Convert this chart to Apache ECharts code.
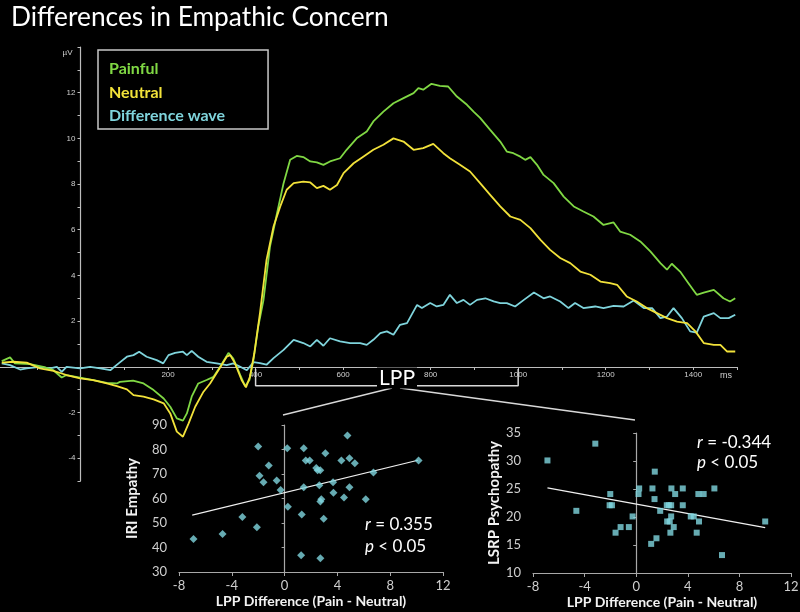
<!DOCTYPE html>
<html>
<head>
<meta charset="utf-8">
<script src="https://cdn.jsdelivr.net/npm/echarts@6/dist/echarts.min.js"></script>
<style>
html,body{margin:0;padding:0;background:#000;}
#chart{width:800px;height:612px;}
</style>
</head>
<body>
<div id="chart"></div>
<script>
// ---------- DATA ----------
const painful = [[-180,0.25],[-161,0.41],[-150,0.15],[-115,0.12],[-85,0],[-62,-0.15],[-43,-0.47],[-32,-0.36],[-1,-0.47],[29,-0.58],[60,-0.7],[83,-0.73],[90,-0.66],[120,-0.61],[144,-0.73],[167,-1.02],[190,-1.39],[205,-1.75],[220,-2.26],[234,-2.36],[243,-2.04],[254,-1.31],[269,-0.73],[288,-0.58],[304,-0.44],[319,0],[338,0.61],[349,0.36],[365,-0.36],[376,-0.85],[386,-0.58],[395,0.29],[406,1.75],[418,2.92],[433,5.27],[449,6.72],[464,8.04],[479,9.06],[494,9.23],[509,9.18],[525,8.99],[540,8.95],[555,8.84],[570,8.99],[593,9.13],[608,9.5],[631,10.0],[654,10.3],[669,10.74],[692,11.17],[715,11.54],[738,11.76],[761,11.98],[772,12.2],[783,12.13],[802,12.39],[821,12.3],[840,12.27],[860,11.83],[883,11.47],[898,11.17],[913,10.9],[936,10.37],[959,9.86],[974,9.42],[989,9.35],[1005,9.2],[1016,9.06],[1028,9.18],[1043,8.84],[1058,8.4],[1081,8.04],[1104,7.45],[1127,7.02],[1149,6.8],[1172,6.58],[1195,6.21],[1218,6.32],[1233,5.92],[1256,5.78],[1279,5.49],[1302,5.05],[1325,4.54],[1340,4.25],[1351,4.51],[1370,4.17],[1389,3.66],[1408,3.15],[1424,3.25],[1447,3.37],[1469,3.0],[1484,2.86],[1496,3.0]];

const neutral = [[-180,0.18],[-153,0.22],[-123,0.18],[-93,-0.07],[-62,-0.18],[-32,-0.36],[-1,-0.51],[29,-0.58],[60,-0.73],[83,-0.85],[106,-0.99],[121,-1.24],[144,-1.31],[167,-1.43],[190,-1.6],[205,-2.04],[220,-2.84],[234,-3.06],[247,-2.48],[262,-1.75],[281,-1.09],[296,-0.73],[315,-0.15],[334,0.44],[342,0.51],[353,0.15],[368,-0.58],[378,-0.9],[387,-0.44],[397,0.58],[410,2.35],[425,4.68],[441,6.14],[456,7.0],[471,7.75],[487,8.04],[509,8.11],[525,8.07],[540,7.82],[555,7.92],[570,7.75],[586,7.96],[601,8.48],[624,8.91],[646,9.2],[669,9.5],[692,9.72],[715,10.0],[738,9.86],[761,9.5],[783,9.57],[806,9.76],[829,9.35],[844,9.13],[867,8.84],[890,8.55],[913,8.04],[936,7.53],[959,7.02],[982,6.58],[1005,6.43],[1028,6.07],[1051,5.56],[1073,5.12],[1096,4.76],[1119,4.54],[1142,4.17],[1165,4.03],[1188,3.73],[1210,3.66],[1226,3.59],[1248,3.08],[1271,2.86],[1294,2.57],[1317,2.35],[1340,2.13],[1363,1.98],[1386,1.91],[1405,1.55],[1424,1.04],[1447,0.96],[1462,0.96],[1477,0.67],[1496,0.67]];

const differenceWave = [[-180,0.15],[-161,0.07],[-138,-0.12],[-123,-0.07],[-93,0],[-70,-0.07],[-54,0],[-43,-0.22],[-32,0],[-1,-0.07],[22,0],[45,-0.07],[68,-0.15],[87,0.15],[106,0.44],[121,0.51],[134,0.66],[151,0.44],[174,0.29],[189,0.15],[201,0.51],[216,0.61],[234,0.66],[243,0.51],[254,0.7],[269,0.44],[288,0.22],[311,0.15],[334,0.07],[349,0.15],[365,0],[380,-0.15],[395,0.2],[410,0.16],[425,0.09],[441,0.38],[464,0.74],[487,1.18],[509,1.04],[525,0.89],[540,1.18],[555,0.92],[570,1.25],[593,1.11],[616,1.04],[639,1.04],[654,0.96],[669,1.18],[685,1.47],[700,1.55],[715,1.4],[730,1.84],[746,1.91],[769,2.71],[780,2.57],[799,2.79],[814,2.64],[829,2.71],[844,3.15],[860,2.79],[875,2.93],[890,2.71],[906,2.93],[925,3.0],[944,2.86],[959,2.79],[974,2.79],[993,2.64],[1013,2.93],[1036,3.25],[1058,3.0],[1073,3.08],[1096,2.86],[1115,2.57],[1130,2.79],[1149,2.57],[1176,2.64],[1195,2.57],[1218,2.67],[1241,2.64],[1264,2.9],[1287,2.57],[1306,2.57],[1325,2.13],[1340,2.2],[1355,2.57],[1374,2.13],[1393,1.55],[1408,1.5],[1424,2.2],[1447,2.35],[1462,2.13],[1481,2.13],[1496,2.28]];

// LPP window (ms)
const lppWindow = [400, 1000];

// Scatter 1: LPP difference vs IRI Empathy
const iriPoints = [[-6.9,43.5],[-4.7,45.5],[-3.2,52.5],[-2.1,48.3],[-2.0,81.2],[-1.9,69.3],[-1.6,66.6],[-1.2,73.5],[-0.6,67.3],[-0.3,63.5],[0.2,80.5],[0.25,56.6],[1.25,36.8],[1.3,53.5],[1.45,80.5],[1.45,64.6],[1.6,75.5],[1.9,75.5],[2.4,72.4],[2.5,71.5],[2.7,71.5],[2.63,65.4],[2.71,35.6],[2.71,58.8],[2.78,59.7],[2.96,51.7],[3.09,78.5],[3.67,66.6],[3.7,62.3],[4.3,75.5],[4.5,60.4],[4.76,85.7],[4.91,76.4],[4.91,64.6],[5.32,74.4],[6.15,59.7],[6.73,70.6],[10.15,75.5]];
const iriTrend = [[-7.0,53.2],[10.1,75.6]];

// Scatter 2: LPP difference vs LSRP Psychopathy
const lsrpPoints = [[-6.88,30.1],[-3.17,33.1],[-4.64,21.1],[-2.01,24.1],[-2.06,22.1],[-1.88,22.1],[-1.6,17.2],[-1.21,18.2],[-0.57,18.2],[-0.28,20.1],[0.23,25.1],[0.18,24.1],[1.16,15.2],[1.26,25.1],[1.44,28.1],[1.42,23.2],[1.57,16.2],[1.86,21.1],[2.37,22.1],[2.53,22.1],[2.71,22.1],[2.4,19.2],[2.6,19.2],[2.71,20.1],[2.73,25.1],[2.65,17.2],[2.91,18.2],[3.02,24.1],[3.61,25.1],[3.61,22.1],[4.23,20.1],[4.46,20.1],[4.69,17.2],[4.82,24.1],[4.87,19.2],[5.23,24.1],[6.06,25.1],[6.65,13.2],[10.0,19.2]];
const lsrpTrend = [[-6.88,25.2],[10.0,18.1]];

// ---------- STYLE ----------
const GREEN = '#80d844', YELLOW = '#f2e23a', CYAN = '#7fd4dc', PT = '#80d6df';
const FONT = 'Lato, "Open Sans", sans-serif';
const TICKFONT = '"Liberation Sans", Arial, sans-serif';

const chart = echarts.init(document.getElementById('chart'), null, {renderer:'canvas'});

function scatterX(gi){
  return {
    gridIndex: gi, type:'value', min:-8, max:12, interval:4,
    axisLine:{onZero:false, lineStyle:{color:'#a8a8a8', width:1.2}},
    axisTick:{show:true, length:4, lineStyle:{color:'#a8a8a8'}},
    axisLabel:{color:'#cfcfcf', fontSize:13, margin:7, fontFamily:FONT},
    splitLine:{show:false},
    name:'LPP Difference (Pain - Neutral)', nameLocation:'middle', nameGap:22,
    nameTextStyle:{color:'#f2f2f2', fontSize:14, fontWeight:'bold', fontFamily:FONT}
  };
}
function scatterYLabels(gi, min, max, interval, name, gap){
  return {
    gridIndex: gi, type:'value', min:min, max:max, interval:interval, position:'left',
    axisLine:{show:false, onZero:false}, axisTick:{show:false},
    axisLabel:{color:'#cfcfcf', fontSize:13, margin:12, fontFamily:FONT},
    splitLine:{show:false},
    name:name, nameLocation:'middle', nameGap:gap,
    nameTextStyle:{color:'#f2f2f2', fontSize:15, fontWeight:'bold', fontFamily:FONT}
  };
}
function scatterYLine(gi, min, max, interval){
  return {
    gridIndex: gi, type:'value', min:min, max:max, interval:interval, position:'left',
    axisLine:{show:true, onZero:true, lineStyle:{color:'#a8a8a8', width:1.2}},
    axisTick:{show:true, length:3, lineStyle:{color:'#a8a8a8'}},
    axisLabel:{show:false}, splitLine:{show:false}
  };
}

const option = {
  backgroundColor:'#000',
  animation:false,
  title:{
    text:'Differences in Empathic Concern', left:6, top:0,
    textStyle:{color:'#fff', fontSize:26.3, fontWeight:'normal', fontFamily:FONT}
  },
  legend:{
    left:98, top:50, orient:'vertical', icon:'none', itemWidth:0, itemHeight:16, itemGap:7.5,
    padding:[11,43,5,6], borderColor:'#c8c8c8', borderWidth:1.5, selectedMode:false,
    textStyle:{fontSize:16, fontWeight:'bold', fontFamily:FONT},
    data:[
      {name:'Painful', textStyle:{color:GREEN}},
      {name:'Neutral', textStyle:{color:YELLOW}},
      {name:'Difference wave', textStyle:{color:CYAN}}
    ]
  },
  grid:[
    {left:-7, width:744, top:47, height:434, containLabel:false, outerBoundsMode:'none'},
    {left:179, width:264, top:425, height:147, containLabel:false, outerBoundsMode:'none'},
    {left:533, width:258, top:433, height:140, containLabel:false, outerBoundsMode:'none'},
    // time-axis band for the ERP panel: same horizontal scale, bottom edge at 0 µV
    {left:-7, width:744, top:47, height:320, containLabel:false, outerBoundsMode:'none'},
    // amplitude-axis band for the ERP panel: same vertical scale, left edge at 0 ms
    {left:80.5, width:656.5, top:47, height:434, containLabel:false, outerBoundsMode:'none'}
  ],
  xAxis:[
    {gridIndex:0, type:'value', min:-200, max:1500, interval:100, show:false},
    scatterX(1), scatterX(2),
    {
      gridIndex:3, type:'value', min:-200, max:1500, interval:100, position:'bottom',
      axisLine:{onZero:false, lineStyle:{color:'#bdbdbd', width:1.2}},
      axisTick:{show:true, length:3, lineStyle:{color:'#bdbdbd'}},
      axisLabel:{color:'#cfcfcf', fontSize:8, margin:4, fontFamily:TICKFONT,
        formatter:function(v){ return (v>0 && v<1500 && v%200===0) ? String(v) : ''; }},
      splitLine:{show:false},
      name:'ms', nameLocation:'end', nameGap:-17,
      nameTextStyle:{color:'#cfcfcf', fontSize:9, fontFamily:TICKFONT, align:'left', verticalAlign:'top', padding:[4,0,0,0]}
    },
    {gridIndex:4, type:'value', min:0, max:1500, show:false}
  ],
  yAxis:[
    {gridIndex:0, type:'value', min:-5, max:14, interval:1, show:false},
    scatterYLabels(1, 30, 90, 10, 'IRI Empathy', 39),
    scatterYLine(1, 30, 90, 10),
    scatterYLabels(2, 10, 35, 5, 'LSRP Psychopathy', 26),
    scatterYLine(2, 10, 35, 5),
    {gridIndex:3, type:'value', min:0, max:14, show:false},
    {
      gridIndex:4, type:'value', min:-5, max:14, interval:1, position:'left',
      axisLine:{onZero:false, lineStyle:{color:'#bdbdbd', width:1.2}},
      axisTick:{show:true, length:3, lineStyle:{color:'#bdbdbd'}},
      axisLabel:{color:'#cfcfcf', fontSize:8, margin:5, fontFamily:TICKFONT,
        formatter:function(v){ return (v%2===0 && v!==0 && v<14) ? String(v) : ''; }},
      splitLine:{show:false},
      name:'µV', nameLocation:'end', nameGap:-6,
      nameTextStyle:{color:'#cfcfcf', fontSize:8, fontFamily:TICKFONT, align:'right', verticalAlign:'middle', padding:[0,8,0,0]}
    }
  ],
  series:[
    {name:'Painful', type:'line', xAxisIndex:0, yAxisIndex:0, data:painful, showSymbol:false,
      lineStyle:{color:GREEN, width:1.8}, itemStyle:{color:GREEN}, z:3},
    {name:'Neutral', type:'line', xAxisIndex:0, yAxisIndex:0, data:neutral, showSymbol:false,
      lineStyle:{color:YELLOW, width:1.8}, itemStyle:{color:YELLOW}, z:4},
    {name:'Difference wave', type:'line', xAxisIndex:0, yAxisIndex:0, data:differenceWave, showSymbol:false,
      lineStyle:{color:CYAN, width:1.8}, itemStyle:{color:CYAN}, z:2},
    {name:'LPP window', type:'line', xAxisIndex:0, yAxisIndex:0, showSymbol:false,
      data:[[lppWindow[0],-0.1],[lppWindow[0],-0.83],[lppWindow[1],-0.83],[lppWindow[1],-0.1]],
      lineStyle:{color:'#d8d8d8', width:1.5}, z:1},
    {name:'IRI', type:'scatter', xAxisIndex:1, yAxisIndex:1, data:iriPoints, symbol:'diamond', symbolSize:8,
      itemStyle:{color:PT}, z:5},
    {name:'IRI trend', type:'line', xAxisIndex:1, yAxisIndex:1, data:iriTrend, showSymbol:false,
      lineStyle:{color:'#f0f0f0', width:1.2}, z:4},
    {name:'LSRP', type:'scatter', xAxisIndex:2, yAxisIndex:3, data:lsrpPoints, symbol:'rect', symbolSize:6,
      itemStyle:{color:PT}, z:5},
    {name:'LSRP trend', type:'line', xAxisIndex:2, yAxisIndex:3, data:lsrpTrend, showSymbol:false,
      lineStyle:{color:'#f0f0f0', width:1.2}, z:4}
  ],
  graphic:[
    {type:'line', shape:{x1:392, y1:388, x2:283, y2:415}, style:{stroke:'#d8d8d8', lineWidth:1.3}, z:50},
    {type:'line', shape:{x1:400, y1:388, x2:635, y2:420}, style:{stroke:'#d8d8d8', lineWidth:1.3}, z:50},
    {type:'text', x:397, y:378, z:100, style:{text:'LPP', fill:'#fff', font:'21px '+FONT, align:'center', verticalAlign:'middle',
      backgroundColor:'#000', padding:[0,2,0,2]}},
    {type:'text', x:365, y:525, z:100, style:{text:'{i|r} = 0.355', fill:'#fff', font:'17px '+FONT, verticalAlign:'middle',
      rich:{i:{fontStyle:'italic', fontSize:17, fontFamily:FONT, fill:'#fff'}}}},
    {type:'text', x:365, y:547, z:100, style:{text:'{i|p} < 0.05', fill:'#fff', font:'17px '+FONT, verticalAlign:'middle',
      rich:{i:{fontStyle:'italic', fontSize:17, fontFamily:FONT, fill:'#fff'}}}},
    {type:'text', x:697, y:443, z:100, style:{text:'{i|r} = -0.344', fill:'#fff', font:'17px '+FONT, verticalAlign:'middle',
      rich:{i:{fontStyle:'italic', fontSize:17, fontFamily:FONT, fill:'#fff'}}}},
    {type:'text', x:697, y:463, z:100, style:{text:'{i|p} < 0.05', fill:'#fff', font:'17px '+FONT, verticalAlign:'middle',
      rich:{i:{fontStyle:'italic', fontSize:17, fontFamily:FONT, fill:'#fff'}}}}
  ]
};
chart.setOption(option);
</script>
</body>
</html>
